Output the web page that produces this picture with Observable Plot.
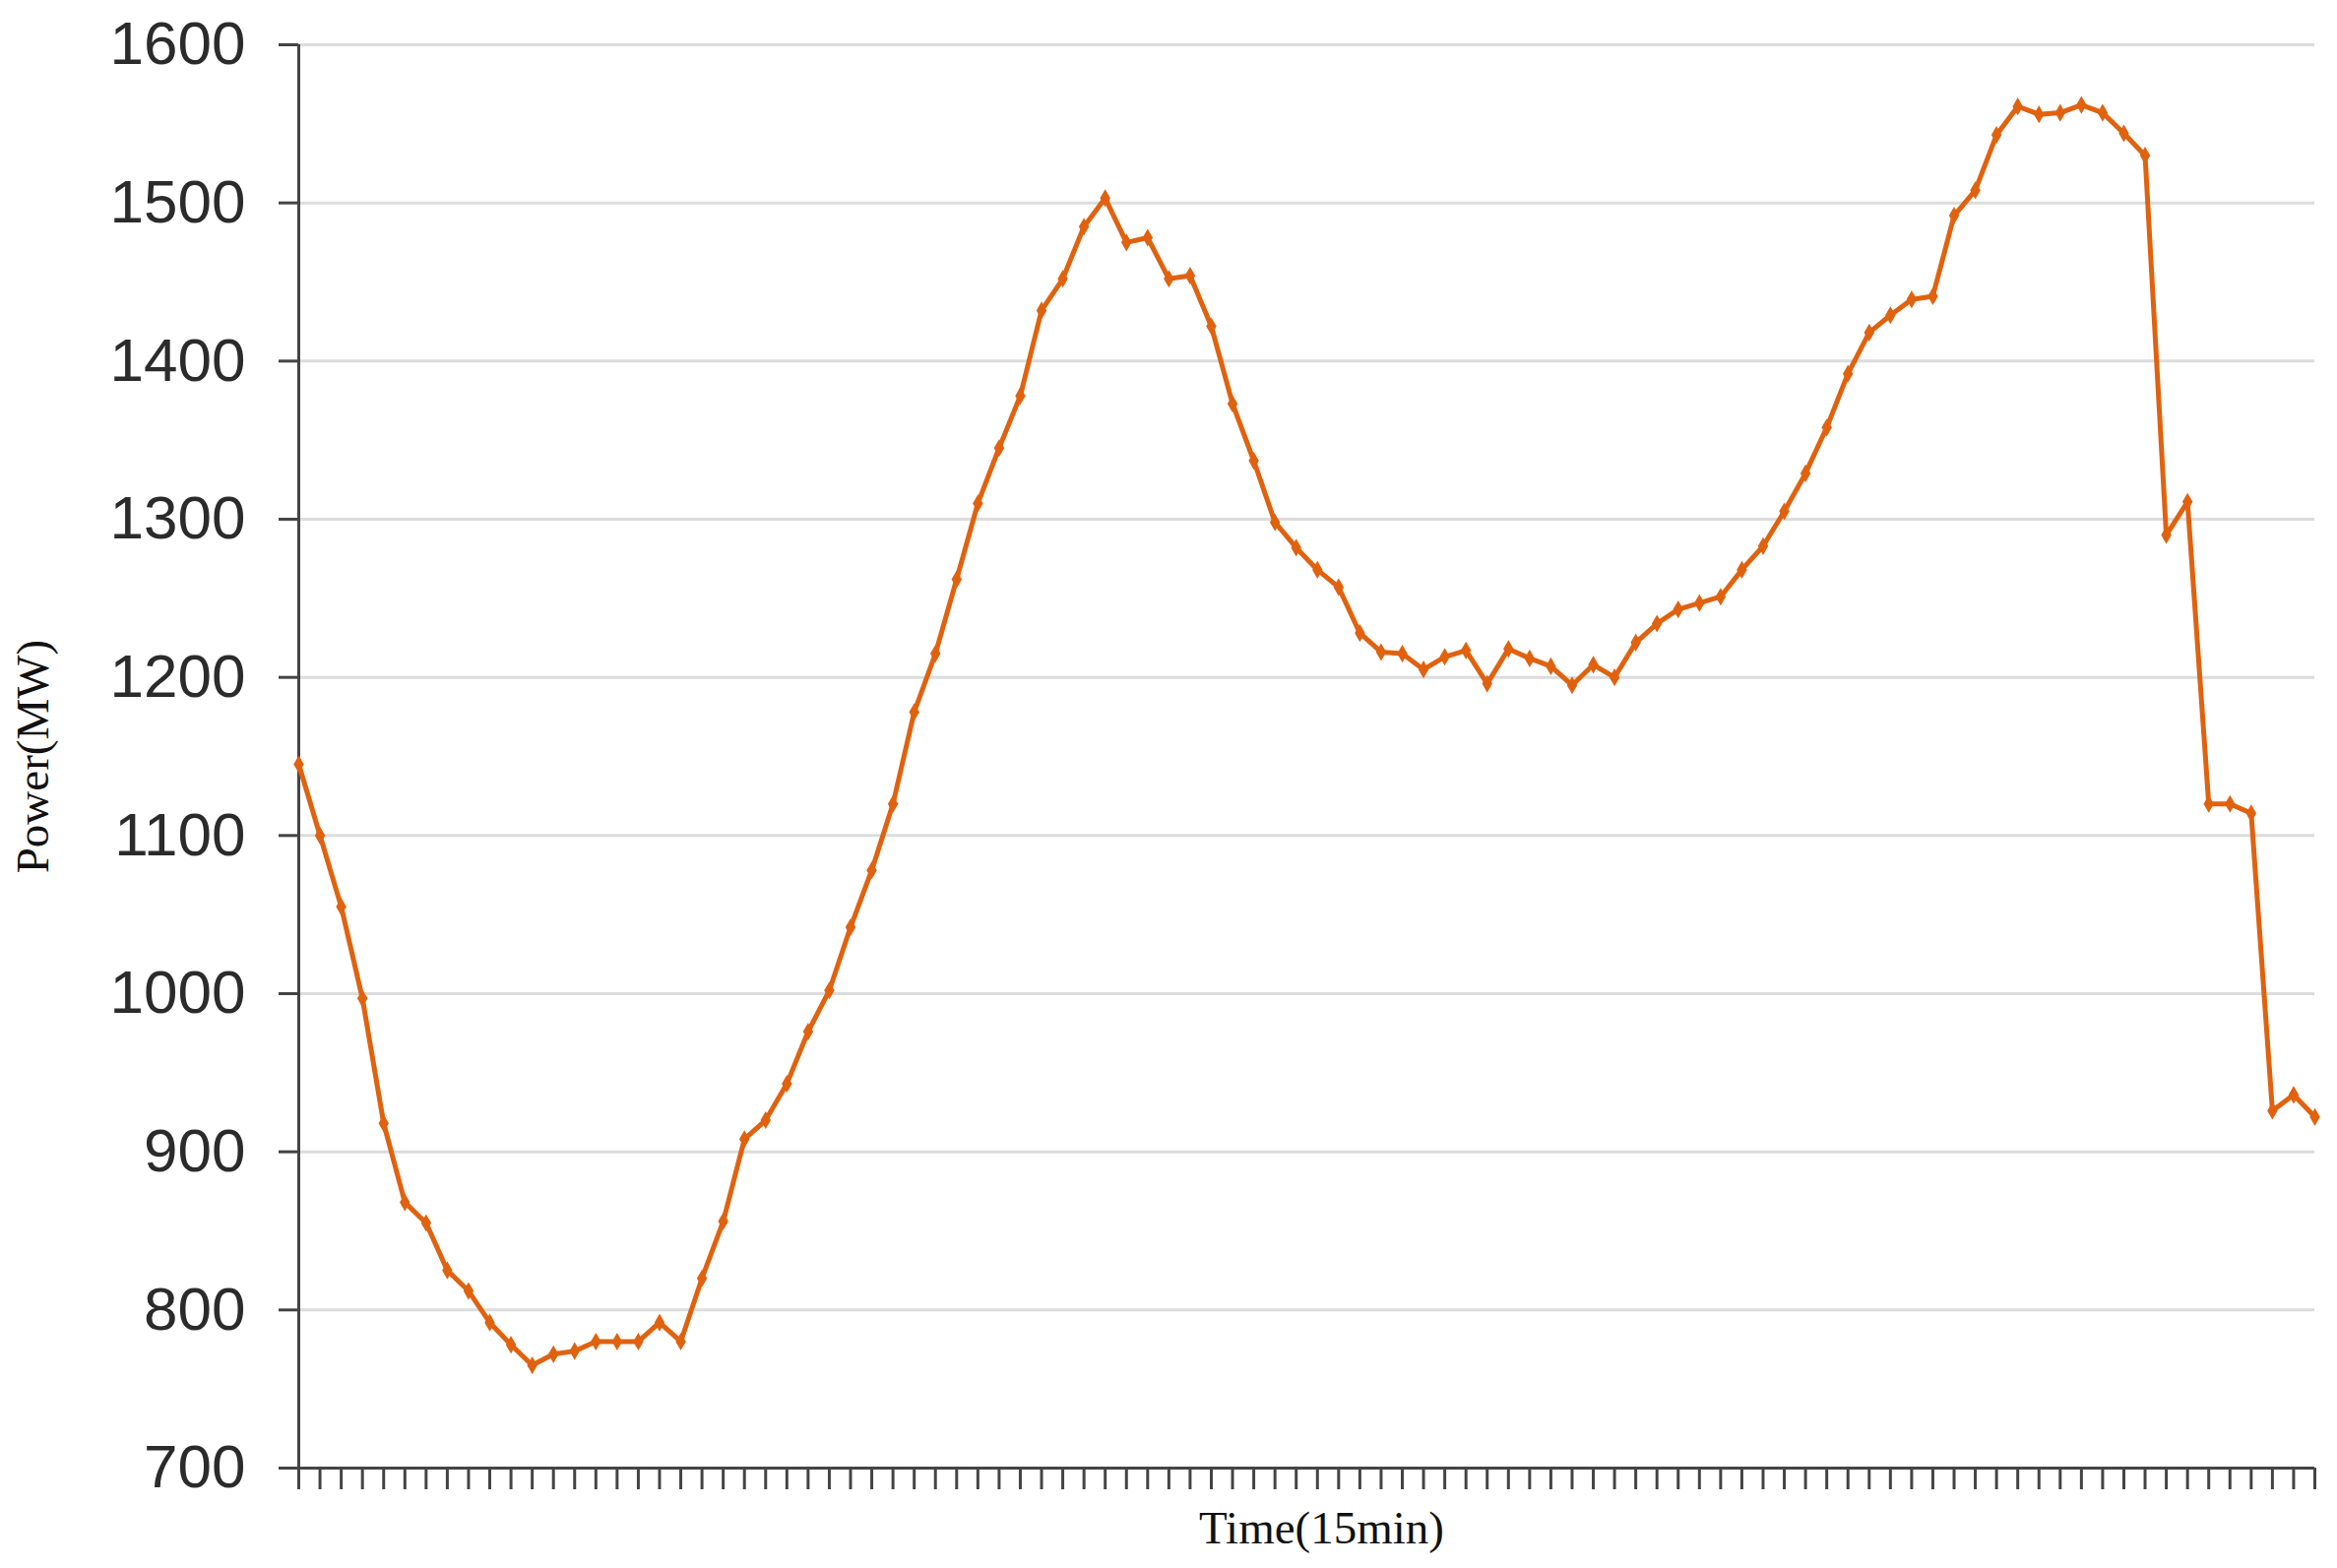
<!DOCTYPE html>
<html>
<head>
<meta charset="utf-8">
<script src="https://cdn.jsdelivr.net/npm/d3@7"></script>
<script src="https://cdn.jsdelivr.net/npm/@observablehq/plot@0.6"></script>
<style>
  html, body { margin: 0; padding: 0; background: #fff; }
  #chart svg { display: block; }
</style>
</head>
<body>
<div id="chart"></div>
<script>
// Load power (MW) for each 15-minute slot of the day (96 slots)
const power = [
  1145, 1100, 1055, 997, 918, 868, 855, 825, 812, 792,
  778, 765, 772, 774, 780, 780, 780, 792, 780, 820,
  856, 908, 920, 943, 976, 1002, 1042, 1078, 1120, 1178,
  1215, 1262, 1310, 1345, 1378, 1432, 1452, 1485, 1503, 1475,
  1478, 1452, 1454, 1422, 1373, 1337, 1298, 1282, 1268, 1257,
  1228, 1216, 1215, 1205, 1213, 1217, 1196, 1218, 1212, 1207,
  1195, 1208, 1200, 1222, 1234, 1243, 1247, 1251, 1268, 1283,
  1305, 1329, 1358, 1392, 1418, 1429, 1439, 1441, 1492, 1508,
  1543, 1561, 1556, 1557, 1562, 1557, 1544, 1530, 1290, 1311,
  1120, 1120, 1114, 926, 936, 922
];
const yTicks = [700, 800, 900, 1000, 1100, 1200, 1300, 1400, 1500, 1600];
const gridValues = [800, 900, 1000, 1100, 1200, 1300, 1400, 1500, 1600];
const xLabel = "Time(15min)";
const yLabel = "Power(MW)";

const rows = power.map((p, i) => ({slot: i, power: p}));
const slots = rows.map(d => d.slot);

const lineColor = "#E0620F";
const axisColor = "#444";

const chart = Plot.plot({
  width: 2374,
  height: 1593,
  marginLeft: 303,
  marginRight: 23,
  marginTop: 45,
  marginBottom: 102,
  style: {fontFamily: "'Liberation Sans', Arial, sans-serif", background: "#fff"},
  x: {domain: [0, power.length - 1]},
  y: {domain: [700, 1600]},
  marks: [
    Plot.gridY(gridValues, {stroke: "#dcdcdc", strokeOpacity: 1, strokeWidth: 3}),
    Plot.axisY(yTicks, {
      tickSize: 20, tickPadding: 34, fontSize: 62, fill: "#2b2b2b",
      stroke: axisColor, strokeWidth: 3, label: null, tickFormat: d => String(d)
    }),
    Plot.axisX(slots, {
      tickSize: 22, tickFormat: () => "", stroke: axisColor, strokeWidth: 3, label: null
    }),
    Plot.ruleX([0], {stroke: axisColor, strokeWidth: 3}),
    Plot.ruleY([700], {stroke: axisColor, strokeWidth: 3}),
    Plot.line(rows, {x: "slot", y: "power", stroke: lineColor, strokeWidth: 5, strokeLinejoin: "round"}),
    Plot.dot(rows, {x: "slot", y: "power", fill: lineColor, stroke: "none", symbol: "diamond", r: 5.5}),
    Plot.text([yLabel], {
      frameAnchor: "left", textAnchor: "middle", dx: -270, rotate: -90, fontSize: 47,
      fontFamily: "'Liberation Serif', 'Times New Roman', serif", fill: "#111"
    }),
    Plot.text([xLabel], {
      frameAnchor: "bottom", dx: 15, dy: 76, fontSize: 47,
      fontFamily: "'Liberation Serif', 'Times New Roman', serif", fill: "#111"
    })
  ]
});
document.getElementById("chart").appendChild(chart);
</script>
</body>
</html>
